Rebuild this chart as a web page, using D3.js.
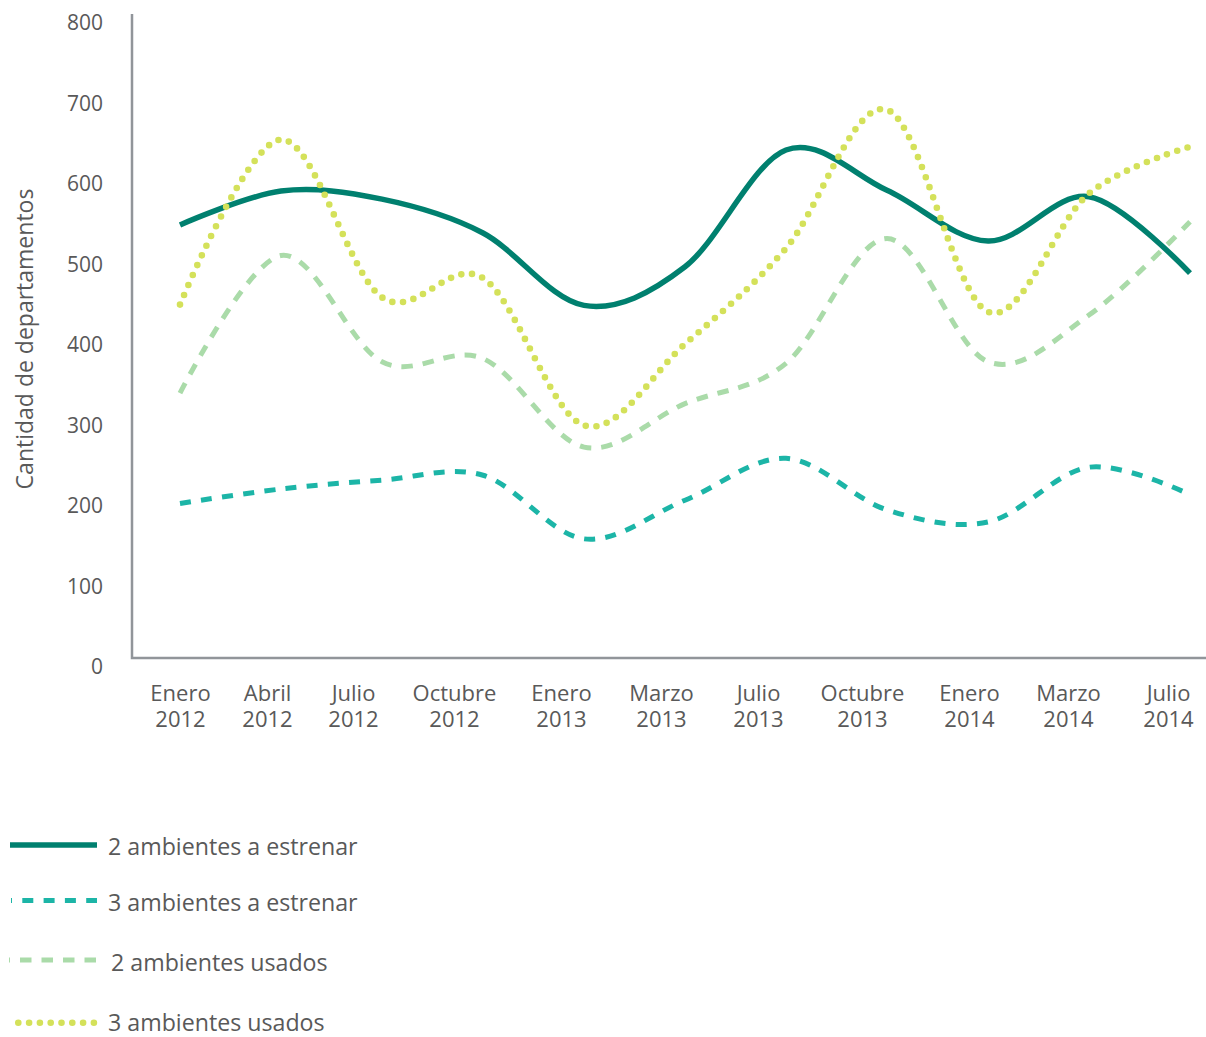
<!DOCTYPE html>
<html>
<head>
<meta charset="utf-8">
<script src="https://cdn.jsdelivr.net/npm/d3@7"></script>
<style>
  html, body { margin: 0; padding: 0; background: #fff; }
  svg { display: block; }
  text { font-family: "Open Sans", "Noto Sans", sans-serif; fill: #595959; }
</style>
</head>
<body>
<svg id="chart" width="1206" height="1037"></svg>
<script>
// Periods on the horizontal axis
const categories = [
  "Enero 2012", "Abril 2012", "Julio 2012", "Octubre 2012",
  "Enero 2013", "Marzo 2013", "Julio 2013", "Octubre 2013",
  "Enero 2014", "Marzo 2014", "Julio 2014"
];

// Number of apartments per period
const estrenar2 = [538, 580, 570, 528, 438, 486, 631, 581, 518, 573, 478];
const estrenar3 = [192, 210, 221, 227, 148, 196, 248, 184, 169, 237, 203];
const usados2   = [329, 500, 368, 372, 262, 316, 366, 521, 368, 426, 542];
const usados3   = [439, 644, 448, 472, 289, 390, 509, 681, 430, 577, 635];

const seriesNames = [
  "2 ambientes a estrenar",
  "3 ambientes a estrenar",
  "2 ambientes usados",
  "3 ambientes usados"
];

const yTicks = [0, 100, 200, 300, 400, 500, 600, 700, 800];
const yTitle = "Cantidad de departamentos";

// ---- layout ----
const svg = d3.select("#chart");
const plot = { left: 132, right: 1206, top: 14, bottom: 658 };

const x = d3.scalePoint().domain(categories).range([180, 1190]);
const y = d3.scaleLinear().domain([0, 800]).range([plot.bottom, plot.top]);

// horizontal nudges for the period labels (hand-placed under the axis)
const labelNudge = [0, -14, -29, -29, -23, -24, -28, -25, -19, -21, -22];

const styles = [
  { color: "#00806F", width: 5.5, dash: null, cap: "butt" },
  { color: "#1CB5A7", width: 5,   dash: "11 10.3", cap: "butt" },
  { color: "#AADBA9", width: 5,   dash: "11.5 10", cap: "butt" },
  { color: "#D4E15A", width: 6.6, dash: "0 10.8", cap: "round" }
];
const allSeries = [estrenar2, estrenar3, usados2, usados3];

// ---- axes ----
svg.append("path")
  .attr("d", `M${plot.left},${y(800)}V${y(0)}H${plot.right}`)
  .attr("fill", "none")
  .attr("stroke", "#91959A")
  .attr("stroke-width", 2.5);

const yAxis = svg.append("g")
  .attr("transform", "translate(103,0)")
  .call(d3.axisLeft(y).tickValues(yTicks).tickSize(0).tickPadding(0).tickFormat(d3.format("d")));
yAxis.select(".domain").remove();
yAxis.selectAll("text")
  .attr("x", 0)
  .attr("dy", null)
  .attr("y", 15.5)
  .attr("text-anchor", "end")
  .style("font-family", "'Open Sans', sans-serif")
  .style("font-size", "21px")
  .style("fill", "#595959");

// period labels: month on the first line, year on the second
const xAxis = svg.append("g")
  .attr("transform", `translate(0,${plot.bottom})`)
  .call(d3.axisBottom(x).tickSize(0).tickFormat(""));
xAxis.select(".domain").remove();
xAxis.selectAll(".tick").each(function(d, i) {
  const tick = d3.select(this);
  tick.select("text").remove();
  const parts = d.split(" ");
  tick.selectAll("text.period").data(parts).join("text")
    .attr("class", "period")
    .attr("x", labelNudge[i])
    .attr("y", (p, k) => 43 + k * 26)
    .attr("text-anchor", "middle")
    .style("font-family", "'Open Sans', sans-serif")
    .style("font-size", "22px")
    .style("fill", "#595959")
    .text(p => p);
});

svg.append("text")
  .attr("transform", "translate(33,339) rotate(-90)")
  .attr("text-anchor", "middle")
  .style("font-size", "23px")
  .text(yTitle);

// ---- lines ----
const line = d3.line()
  .x((d, i) => x(categories[i]))
  .y(d => y(d))
  .curve(d3.curveCardinal.tension(0));

allSeries.forEach((vals, k) => {
  const s = styles[k];
  svg.append("path")
    .datum(vals)
    .attr("d", line)
    .attr("fill", "none")
    .attr("stroke", s.color)
    .attr("stroke-width", s.width)
    .attr("stroke-linecap", s.cap)
    .attr("stroke-dasharray", s.dash);
});

// ---- legend ----
const legendRows = [
  { y: 845, x0: 10, x1: 97, dashOffset: 0, textX: 108, base: 855 },
  { y: 900.5, x0: 11, x1: 97, dashOffset: 10, textX: 108, base: 911 },
  { y: 960, x0: 9, x1: 96, dashOffset: 10.5, textX: 111, base: 971 },
  { y: 1022.7, x0: 18.3, x1: 95, dashOffset: 0, textX: 108, base: 1031 }
];

const legend = svg.append("g");
seriesNames.forEach((name, k) => {
  const r = legendRows[k], s = styles[k];
  legend.append("line")
    .attr("x1", r.x0).attr("x2", r.x1)
    .attr("y1", r.y).attr("y2", r.y)
    .attr("stroke", s.color)
    .attr("stroke-width", s.width)
    .attr("stroke-linecap", s.cap)
    .attr("stroke-dasharray", s.dash)
    .attr("stroke-dashoffset", r.dashOffset);
  legend.append("text")
    .attr("x", r.textX)
    .attr("y", r.base)
    .style("font-size", "23.2px")
    .text(name);
});
</script>
</body>
</html>
